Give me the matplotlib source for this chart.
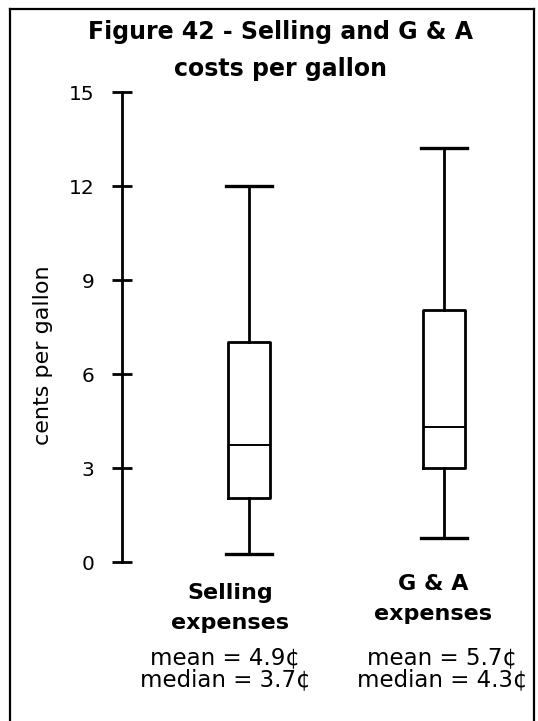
import matplotlib
matplotlib.use("Agg")
import matplotlib.pyplot as plt
from matplotlib.lines import Line2D

plt.rcParams['font.family'] = ['DejaVu Sans']

# box plot summaries, cents per gallon
categories = [["Selling", "expenses"], ["G & A", "expenses"]]
whis_lo = [0.27, 0.77]
q1 = [2.04, 3.0]
med = [3.73, 4.3]
q3 = [7.02, 8.04]
whis_hi = [12.0, 13.2]
mean_vals = [4.9, 5.7]
median_vals = [3.7, 4.3]
yticks = [0, 3, 6, 9, 12, 15]

W, H = 538, 721
fig = plt.figure(figsize=(W / 100, H / 100), dpi=100)

def fx(px):
    return px / W

def fy(py):
    return 1 - py / H

# frame around the figure (open at the bottom)
for xs, ys in [([10, 10], [721, 9]), ([10, 534], [9, 9]), ([534, 534], [9, 721])]:
    fig.add_artist(Line2D([fx(x) for x in xs], [fy(y) for y in ys],
                          color='black', lw=1.6, transform=fig.transFigure))

fig.text(fx(281), fy(39), "Figure 42 - Selling and G & A", ha='center',
         va='baseline', fontsize=17, fontweight='bold')
fig.text(fx(281), fy(76), "costs per gallon", ha='center',
         va='baseline', fontsize=17, fontweight='bold')

ax = fig.add_axes([fx(122), fy(562), fx(534) - fx(122), fy(92) - fy(562)])
stats = []
for i in range(len(categories)):
    stats.append(dict(whislo=whis_lo[i], q1=q1[i], med=med[i], q3=q3[i],
                      whishi=whis_hi[i], fliers=[]))
positions = [1, 2]
ax.bxp(stats, positions=positions, widths=0.22, capwidths=0.24,
       showfliers=False,
       boxprops=dict(color='black', lw=2.0),
       whiskerprops=dict(color='black', lw=2.0),
       capprops=dict(color='black', lw=2.4),
       medianprops=dict(color='black', lw=1.4))

ax.set_xlim(1 - 127 / 195, 1 + 285 / 195)
ax.set_ylim(0, 15)
ax.set_yticks(yticks)
ax.set_xticks([])
for s in ['top', 'right', 'bottom']:
    ax.spines[s].set_visible(False)
ax.spines['left'].set_linewidth(2.0)
ax.tick_params(axis='y', direction='inout', length=14, width=2.0,
               pad=13, labelsize=14.5)
ax.patch.set_visible(False)

fig.text(fx(43), fy(355), "cents per gallon", rotation=90, ha='center',
         va='center', fontsize=16)

# category labels and summary text under each box
label_x = [230, 433]
label_base = [(599, 629), (590, 620)]
stat_x = [225, 442]
for i, lines in enumerate(categories):
    for line, yb in zip(lines, label_base[i]):
        fig.text(fx(label_x[i]), fy(yb), line, ha='center', va='baseline',
                 fontsize=16, fontweight='bold')
    fig.text(fx(stat_x[i]), fy(664), f"mean = {mean_vals[i]}\u00a2",
             ha='center', va='baseline', fontsize=16.5)
    fig.text(fx(stat_x[i]), fy(686), f"median = {median_vals[i]}\u00a2",
             ha='center', va='baseline', fontsize=16.5)

fig.savefig("out.png", dpi=100)
